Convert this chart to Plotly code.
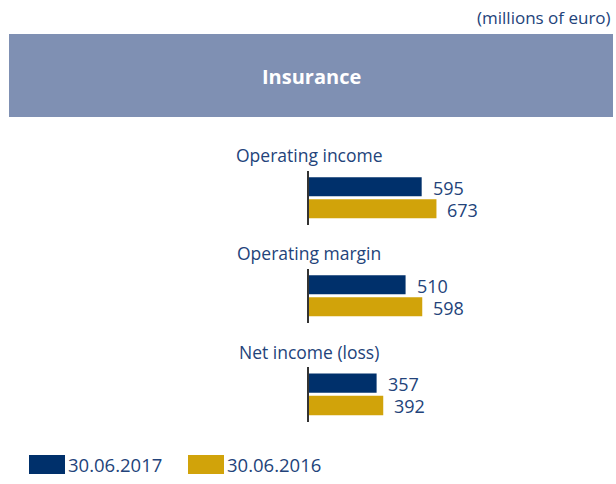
import plotly.graph_objects as go

categories = ["Operating income", "Operating margin", "Net income (loss)"]
series_names = ["30.06.2017", "30.06.2016"]
values_2017 = [595, 510, 357]
values_2016 = [673, 598, 392]
unit_label = "(millions of euro)"
section_title = "Insurance"

W, H = 616, 484
NAVY = "#00306B"
GOLD = "#D1A30A"
HEADER = "#7F90B3"
TEXT = "#23437A"
FONT = "Open Sans"

def py(p):
    return 1 - p / H

def px(p):
    return p / W

# pixel extents (top, bottom) of each group's axis band
group_bands = [(171, 225), (269, 323), (367, 422)]
label_centers = [155, 253, 352]

fig = go.Figure()
annotations = []
layout_axes = {}
for i, cat in enumerate(categories):
    yname = "y" if i == 0 else f"y{i+1}"
    ykey = "yaxis" if i == 0 else f"yaxis{i+1}"
    vals = [values_2016[i], values_2017[i]]
    fig.add_trace(go.Bar(
        x=vals, y=[0, 1], orientation="h",
        marker=dict(color=[GOLD, NAVY], line=dict(width=0)),
        width=0.865, xaxis="x", yaxis=yname, showlegend=False,
        hoverinfo="x",
    ))
    top, bot = group_bands[i]
    layout_axes[ykey] = dict(
        domain=[py(bot), py(top)], range=[-0.74, 1.72],
        showline=True, linecolor="#333333", linewidth=2,
        showticklabels=False, ticks="", showgrid=False, zeroline=False,
        anchor="x", fixedrange=True,
    )
    for yv, v in zip([0, 1], vals):
        annotations.append(dict(
            x=v, y=yv, xref="x", yref=yname, text=str(v), showarrow=False,
            xanchor="left", yanchor="middle", xshift=9, yshift=-1,
            font=dict(family=FONT, size=18, color=TEXT),
        ))
    annotations.append(dict(
        x=0, y=py(label_centers[i]), xref="x", yref="paper", text=cat,
        showarrow=False, xanchor="center", yanchor="middle",
        font=dict(family=FONT, size=17.5, color=TEXT),
    ))

# header
annotations.append(dict(
    x=px(311.5), y=py(76), xref="paper", yref="paper",
    text=f"<b>{section_title}</b>", showarrow=False,
    xanchor="center", yanchor="middle",
    font=dict(family=FONT, size=20, color="white"),
))
annotations.append(dict(
    x=px(613), y=py(18), xref="paper", yref="paper", text=unit_label,
    showarrow=False, xanchor="right", yanchor="middle",
    font=dict(family=FONT, size=17, color=TEXT),
))

shapes = [dict(type="rect", xref="paper", yref="paper",
               x0=px(9), x1=px(613), y0=py(117), y1=py(34),
               fillcolor=HEADER, line=dict(width=0), layer="below")]

# legend swatches
legend_items = [(29, NAVY, series_names[0]), (188, GOLD, series_names[1])]
for x0, col, name in legend_items:
    shapes.append(dict(type="rect", xref="paper", yref="paper",
                       x0=px(x0), x1=px(x0 + 36), y0=py(474), y1=py(455),
                       fillcolor=col, line=dict(width=0)))
    annotations.append(dict(
        x=px(x0 + 37), y=py(464.5), xref="paper", yref="paper", text=name,
        showarrow=False, xanchor="left", yanchor="middle",
        font=dict(family=FONT, size=18.5, color=TEXT),
    ))

fig.update_layout(
    width=W, height=H, margin=dict(l=0, r=0, t=0, b=0),
    paper_bgcolor="white", plot_bgcolor="white",
    xaxis=dict(domain=[px(309), px(612)], range=[0, 1600], visible=False,
               fixedrange=True),
    annotations=annotations, shapes=shapes, showlegend=False,
    font=dict(family=FONT, color=TEXT),
    **layout_axes,
)

fig.write_html(
    "out.html",
    config={"displayModeBar": False},
    post_script="document.body.style.margin='0';document.body.style.overflow='hidden';",
)
